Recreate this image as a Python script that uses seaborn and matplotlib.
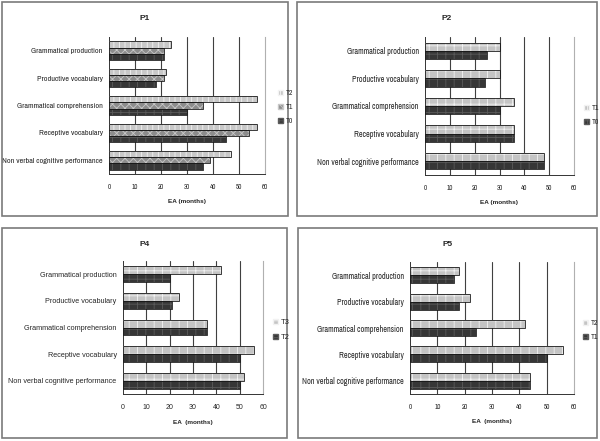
import pandas as pd
import matplotlib
matplotlib.use("Agg")
import matplotlib.pyplot as plt
import seaborn as sns
from matplotlib.patches import Rectangle, Patch
from matplotlib import font_manager

sns.set_style("white")
installed = {f.name for f in font_manager.fontManager.ttflist}
narrow_pref = ['Liberation Sans Narrow', 'Arial Narrow', 'Archivo Narrow', 'PT Sans Narrow',
               'Roboto Condensed', 'Open Sans Condensed', 'Liberation Sans']
narrow = [f for f in narrow_pref if f in installed][:1] + ['DejaVu Sans']
regular = ['Liberation Sans', 'DejaVu Sans']
plt.rcParams['font.family'] = narrow
plt.rcParams['hatch.linewidth'] = 0.6

# data (EA in months)
categories = ['Grammatical production', 'Productive vocabulary', 'Grammatical comprehension',
              'Receptive vocabulary', 'Non verbal cognitive performance']
p1_t2 = [24, 22, 57, 57, 47]
p1_t1 = [21, 21, 36, 54, 39]
p1_t0 = [21, 18, 30, 45, 36]
p2_t1 = [30, 30, 36, 36, 48]
p2_t0 = [25, 24, 30, 36, 48]
p4_t3 = [42, 24, 36, 56, 52]
p4_t2 = [20, 21, 36, 50, 50]
p5_t2 = [18, 22, 42, 56, 44]
p5_t1 = [16, 18, 24, 50, 44]
x_ticks = [0, 10, 20, 30, 40, 50, 60]

# bar styles: (face, hatch, hatch colour)
light = ('#c4c4c4', '++', '#f2f2f2')
mid = ('#8c8c8c', 'xxxx', '#c8c8c8')
dark = ('#363636', '++', '#5a5a5a')
light_v = ('#c8c8c8', '|||', '#f4f4f4')

panels = [
    dict(title='P1', series={'T2': p1_t2, 'T1': p1_t1, 'T0': p1_t0},
         styles=[light_v, mid, dark], width=0.68, xlabel='EA (months)', font=narrow, fs=5.8,
         ax=[109, 37, 265, 174], box=[2, 2, 288, 216], leg=(274, 107)),
    dict(title='P2', series={'T1': p2_t1, 'T0': p2_t0},
         styles=[light, dark], width=0.6, xlabel='EA (months)', font=narrow, fs=5.9,
         ax=[425, 37, 574, 175], box=[297, 2, 597, 216], leg=(580, 115)),
    dict(title='P4', series={'T3': p4_t3, 'T2': p4_t2},
         styles=[light, dark], width=0.6, xlabel='EA  (months)', font=regular, fs=5.2,
         ax=[123, 261, 263, 394], box=[2, 228, 287, 438], leg=(269, 330)),
    dict(title='P5', series={'T2': p5_t2, 'T1': p5_t1},
         styles=[light, dark], width=0.6, xlabel='EA  (months)', font=narrow, fs=5.9,
         ax=[410, 262, 574, 394], box=[298, 228, 597, 438], leg=(579, 330)),
]

W, H = 600, 441
fig = plt.figure(figsize=(6, 4.41), dpi=100)

for p in panels:
    fam = p['font']
    fs = p['fs']
    # panel frame
    bx0, by0, bx1, by1 = p['box']
    fig.add_artist(Rectangle((bx0 / W, 1 - by1 / H), (bx1 - bx0) / W, (by1 - by0) / H,
                             transform=fig.transFigure, fill=False,
                             edgecolor='#7a7a7a', linewidth=1.2))
    fig.text((bx0 + bx1) / 2 / W, 1 - 19 / H - (by0 - 2) / H, p['title'],
             ha='center', va='center', fontsize=6, fontweight='bold', family=regular)

    x0, y0, x1, y1 = p['ax']
    ax = fig.add_axes([x0 / W, 1 - y1 / H, (x1 - x0) / W, (y1 - y0) / H])

    rows = []
    for name, vals in p['series'].items():
        for c, v in zip(categories, vals):
            rows.append({'cat': c, 'time': name, 'ea': v})
    df = pd.DataFrame(rows)
    names = list(p['series'].keys())
    pal = {n: s[0] for n, s in zip(names, p['styles'])}

    sns.barplot(data=df, y='cat', x='ea', hue='time', hue_order=names,
                order=categories, palette=pal, width=p['width'],
                orient='h', legend=False, ax=ax, zorder=3, saturation=1)

    for cont, st in zip(ax.containers, p['styles']):
        for bar in cont:
            bar.set_hatch(st[1])
            bar.set_edgecolor(st[2])
            bar.set_linewidth(0)
            ax.add_patch(Rectangle(bar.get_xy(), bar.get_width(), bar.get_height(),
                                   fill=False, edgecolor='#1a1a1a', linewidth=0.6, zorder=4))

    ax.set_xlim(0, 60)
    ax.set_ylim(len(categories) - 0.5, -0.5)
    ax.set_xticks(x_ticks)
    ax.set_xticklabels([str(t) for t in x_ticks], fontsize=5, family=fam)
    ax.set_yticks(range(len(categories)))
    ax.set_yticklabels(categories, fontsize=fs, family=fam)
    ax.set_yticks([i - 0.5 for i in range(len(categories) + 1)], minor=True)
    ax.tick_params(axis='y', which='major', length=0, pad=4.5)
    ax.tick_params(axis='y', which='minor', length=3, width=0.6, color='#333333', direction='out')
    ax.tick_params(axis='x', length=3, width=0.6, color='#333333', direction='out', pad=4)
    ax.set_ylabel('')
    ax.set_xlabel(p['xlabel'], fontsize=4.6, fontweight='bold', labelpad=7, family=regular)

    for t in x_ticks[1:-1]:
        ax.axvline(t, color='#404040', linewidth=0.8, zorder=1)
    ax.spines['top'].set_visible(False)
    ax.spines['right'].set_color('#b0b0b0')
    ax.spines['right'].set_linewidth(0.8)
    for side in ['left', 'bottom']:
        ax.spines[side].set_color('#333333')
        ax.spines[side].set_linewidth(0.7)
    ax.grid(False)

    handles = [Patch(facecolor=s[0], hatch=s[1], edgecolor=s[2], label=n)
               for n, s in zip(names, p['styles'])]
    lx, ly = p['leg']
    fig.legend(handles=handles, loc='center left', bbox_to_anchor=(lx / W, 1 - ly / H),
               frameon=False, prop={'family': fam, 'size': 5.5}, handlelength=0.7,
               handleheight=0.7, handletextpad=0.3, labelspacing=1.0, borderpad=0)

fig.savefig('out.png', dpi=100)
